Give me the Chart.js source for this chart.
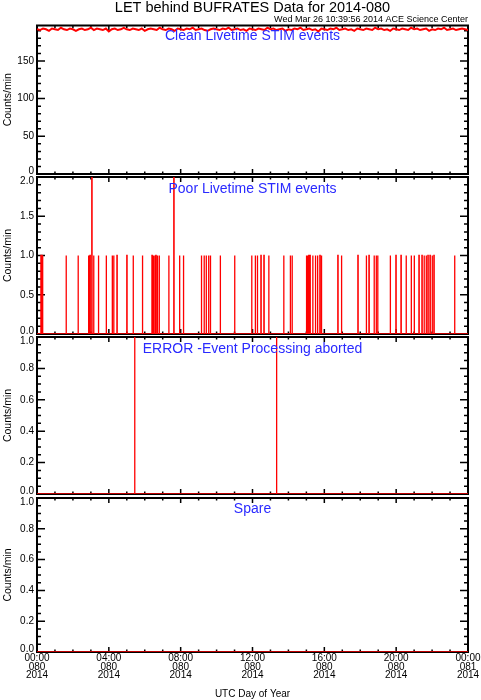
<!DOCTYPE html>
<html><head><meta charset="utf-8">
<script src="https://cdn.jsdelivr.net/npm/chart.js@4.4.1/dist/chart.umd.min.js"></script>
<style>
html,body{margin:0;padding:0;background:#fff;}
body{width:481px;height:700px;position:relative;overflow:hidden;}
canvas{position:absolute;left:0;}
</style></head>
<body>
<canvas id="c1" width="481" height="182" style="top:0px"></canvas>
<canvas id="c2" width="481" height="173" style="top:169px"></canvas>
<canvas id="c3" width="481" height="173" style="top:329px"></canvas>
<canvas id="c4" width="481" height="210" style="top:490px"></canvas>
<script>
// ---------------- DATA ----------------
const mainTitle = 'LET behind BUFRATES Data for 2014-080';
const subTitle = 'Wed Mar 26 10:39:56 2014 ACE Science Center';
const panelTitles = ['Clean Livetime STIM events', 'Poor Livetime STIM events', 'ERROR -Event Processing aborted', 'Spare'];
const xTickTimes = ['00:00','04:00','08:00','12:00','16:00','20:00','00:00'];
const xTickDays = ['080','080','080','080','080','080','081'];
const xTickYears = ['2014','2014','2014','2014','2014','2014','2014'];

// Clean Livetime STIM events, sampled every 10 minutes (minute of day 0..1440)
const cleanVals = [192,191,193,192,190,193,192,191,194,192,
  191,193,192,190,192,193,191,192,194,191,
  193,192,191,193,189,192,193,191,192,194,
  192,191,193,192,191,193,190,192,193,192,
  191,194,192,191,193,192,190,193,192,191,
  193,192,194,191,192,193,191,190,192,193,
  192,191,193,192,194,191,192,193,191,192,
  190,193,192,191,193,192,191,194,192,193,
  191,192,193,190,192,191,193,192,194,191,
  192,193,191,192,189,193,192,191,193,192,
  194,191,192,193,191,192,190,193,192,191,
  193,192,191,194,192,193,191,192,190,193,
  192,191,193,192,191,194,192,193,191,192,
  193,190,192,191,193,192,194,191,192,193,
  191,192,193,192,191];

// Poor Livetime STIM events: minute of day of non-zero bins and counts
const poorMin = [13,16,19,97,137,172,177,183,189,205,231,251,256,267,300,321,352,384,388,393,397,402,408,440,457,476,489,
  549,558,565,573,579,612,660,717,729,736,748,758,774,824,846,852,900,904,908,912,921,930,937,945,950,
  1005,1017,1072,1100,1109,1126,1133,1138,1180,1199,1216,1233,1250,1260,1276,1286,1293,1300,1306,1313,1320,1326,1395];
const poorVal = [1,1,1,1,1,1,1,2,1,1,1,1,1,1,1,1,1,1,1,1,1,1,1,1,2,1,1,
  1,1,1,1,1,1,1,1,1,1,1,1,1,1,1,1,1,1,1,1,1,1,1,1,1,
  1,1,1,1,1,1,1,1,1,1,1,1,1,1,1,1,1,1,1,1,1,1,1];

// ERROR - Event Processing aborted
const errMin = [326, 800];
const errVal = [1, 1];

// Spare
const spareMin = [];
const spareVal = [];

// ---------------- BUILD ----------------
const RED = '#ff0000', BLUE = '#2a2aff';
Chart.defaults.font.family = '"Liberation Sans", Arial, Helvetica, sans-serif';
Chart.defaults.color = '#000';

const cleanPts = cleanVals.map((v, i) => ({x: i * 1440 / (cleanVals.length - 1), y: v}));
function binPoints(mins, vals) {
  const pts = [{x: 0, y: 0}];
  mins.forEach((m, i) => {
    pts.push({x: m, y: 0}, {x: m, y: vals[i]}, {x: m + 1, y: vals[i]}, {x: m + 1, y: 0});
  });
  pts.push({x: 1440, y: 0});
  return pts;
}

const idlAxes = {
  id: 'idlAxes',
  beforeDatasetsDraw(chart, args, o) {
    const {ctx, chartArea: a, scales: {x, y}} = chart;
    ctx.save();
    ctx.strokeStyle = '#000';
    ctx.lineWidth = 2;
    ctx.strokeRect(a.left, a.top, a.right - a.left, a.bottom - a.top);
    ctx.lineWidth = 1.5;
    ctx.beginPath();
    const n = Math.floor((y.max - y.min) / o.yMinor + 1e-6);
    for (let i = 0; i <= n; i++) {
      const v = y.min + i * o.yMinor;
      const py = y.getPixelForValue(v);
      const r = v / o.yMajor;
      const L = Math.abs(r - Math.round(r)) < 1e-6 ? 8 : 4;
      ctx.moveTo(a.left, py); ctx.lineTo(a.left + L, py);
      ctx.moveTo(a.right, py); ctx.lineTo(a.right - L, py);
    }
    for (let m = 0; m <= 1440; m += 60) {
      const px = x.getPixelForValue(m);
      const L = m % 240 === 0 ? 5 : 2.5;
      ctx.moveTo(px, a.top); ctx.lineTo(px, a.top + L);
      ctx.moveTo(px, a.bottom); ctx.lineTo(px, a.bottom - L);
    }
    ctx.stroke();
    ctx.restore();
  }
};
const panelTitle = {
  id: 'panelTitle',
  afterDraw(chart, args, o) {
    const {ctx, chartArea: a} = chart;
    ctx.save();
    ctx.font = '14px "Liberation Sans", Arial, sans-serif';
    ctx.fillStyle = BLUE;
    ctx.textAlign = 'center';
    ctx.textBaseline = 'alphabetic';
    ctx.fillText(o.text, (a.left + a.right) / 2, a.top + o.dy);
    ctx.restore();
  }
};

function makeChart(id, cfg) {
  const bottom = !!cfg.bottom;
  const isEdge = (v, lim) => Math.abs(v - lim) < 1e-9;
  const opts = {
    responsive: false,
    animation: false,
    events: [],
    layout: {padding: {left: 0, right: 13, top: cfg.padTop, bottom: bottom ? 0 : 8}},
    plugins: {
      legend: {display: false},
      tooltip: {enabled: false},
      title: cfg.title ? {display: true, fullSize: false, text: mainTitle, font: {size: 14.5, weight: 'normal', lineHeight: 1.0}, color: '#000', padding: {top: 1, bottom: 0}} : {display: false},
      subtitle: cfg.title ? {display: true, fullSize: false, text: subTitle, align: 'end', font: {size: 9, lineHeight: 1.0}, color: '#000', padding: {top: 0, bottom: 1}} : {display: false},
      idlAxes: {yMajor: cfg.yMajor, yMinor: cfg.yMinor},
      panelTitle: {text: cfg.panel, dy: cfg.dy}
    },
    scales: {
      x: {
        type: 'linear', min: 0, max: 1440, display: bottom,
        grid: {display: false, drawTicks: false}, border: {display: false},
        ticks: {
          stepSize: 240, autoSkip: false, maxRotation: 0, padding: 2,
          font: {size: 10, lineHeight: 0.85},
          callback: (v) => { const i = Math.round(v / 240); return [xTickTimes[i], xTickDays[i], xTickYears[i]]; }
        },
        title: {display: bottom, text: 'UTC Day of Year', font: {size: 10, lineHeight: 1.1}, padding: {top: 0, bottom: 0}},
        afterFit(s) { s.paddingLeft = 0; s.paddingRight = 0; if (bottom) s.height = 48; }
      },
      y: {
        min: 0, max: cfg.yMax,
        grid: {display: false, drawTicks: false}, border: {display: false},
        ticks: {
          stepSize: cfg.yMajor, padding: 3,
          // edge labels are nudged inside the panel, as in the original plot
          font: (c) => {
            const v = c.tick ? c.tick.value : NaN;
            if (isEdge(v, 0)) return {size: 10, lineHeight: 0.5};
            if (isEdge(v, cfg.yMax)) return {size: 10, lineHeight: 0.8};
            return {size: 10, lineHeight: 1.2};
          },
          callback: (v) => {
            const s = v.toFixed(cfg.dec);
            if (isEdge(v, 0)) return [s, ''];
            if (isEdge(v, cfg.yMax)) return ['', s];
            return s;
          }
        },
        afterBuildTicks(s) { s.ticks = s.ticks.filter(t => { const r = t.value / cfg.yMajor; return Math.abs(r - Math.round(r)) < 1e-6; }); },
        title: {display: true, text: 'Counts/min', font: {size: 10.5, lineHeight: 1.2}, padding: {top: 2, bottom: 0}},
        afterFit(s) { s.width = 37; s.paddingTop = 0; s.paddingBottom = 0; }
      }
    }
  };
  return new Chart(document.getElementById(id), {
    type: 'line',
    data: {datasets: [{data: cfg.data, borderColor: RED, borderWidth: cfg.bw, pointRadius: 0, tension: 0, fill: false}]},
    options: opts,
    plugins: [idlAxes, panelTitle]
  });
}

makeChart('c1', {title: true, padTop: 0, data: cleanPts, yMax: 197, yMajor: 50, yMinor: 10, dec: 0, panel: panelTitles[0], dy: 14, bw: 2});
makeChart('c2', {padTop: 8, data: binPoints(poorMin, poorVal), yMax: 2, yMajor: 0.5, yMinor: 0.1, dec: 1, panel: panelTitles[1], dy: 16, bw: 1.3});
makeChart('c3', {padTop: 8, data: binPoints(errMin, errVal), yMax: 1, yMajor: 0.2, yMinor: 0.05, dec: 1, panel: panelTitles[2], dy: 16, bw: 1.3});
makeChart('c4', {padTop: 8, bottom: true, data: binPoints(spareMin, spareVal), yMax: 1, yMajor: 0.2, yMinor: 0.05, dec: 1, panel: panelTitles[3], dy: 15, bw: 1.3});
</script>
</body></html>
